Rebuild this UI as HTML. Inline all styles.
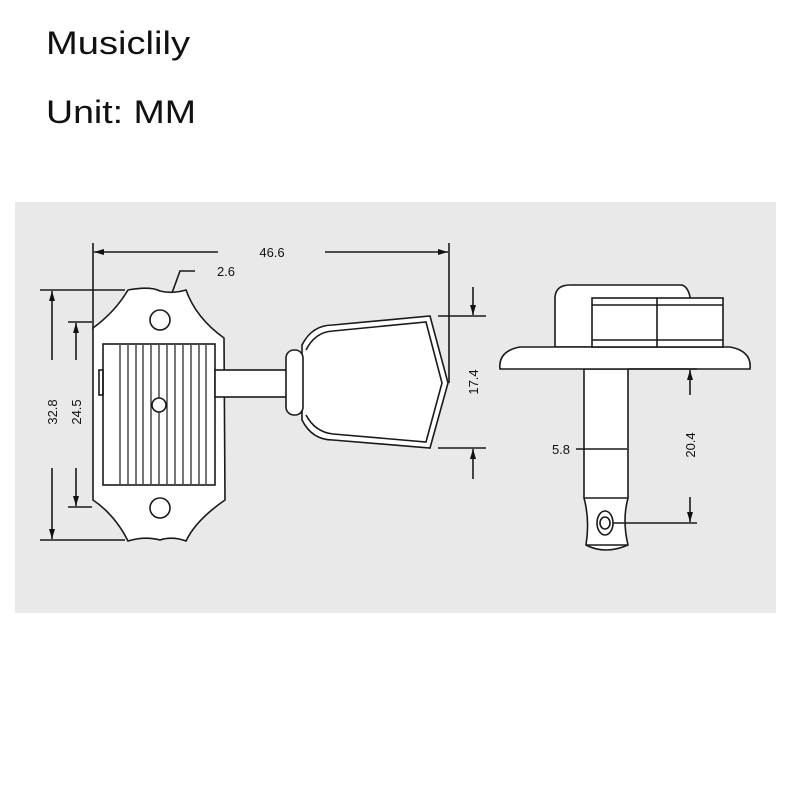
<!DOCTYPE html>
<html><head><meta charset="utf-8"><style>
html,body{margin:0;padding:0;background:#fff;width:800px;height:800px;overflow:hidden}
svg{display:block}
</style></head><body>
<svg width="800" height="800" viewBox="0 0 800 800" xmlns="http://www.w3.org/2000/svg" font-family="Liberation Sans, DejaVu Sans, sans-serif">
<defs>
<marker id="a" markerWidth="10" markerHeight="8" refX="10" refY="4" orient="auto" markerUnits="userSpaceOnUse"><path d="M0,1 L10,4 L0,7 z" fill="#111"/></marker>
</defs>
<text x="46" y="54" font-size="32" fill="#111" textLength="144" lengthAdjust="spacingAndGlyphs">Musiclily</text>
<text x="46" y="123" font-size="32" fill="#111" textLength="150" lengthAdjust="spacingAndGlyphs">Unit: MM</text>
<rect x="15" y="202" width="761" height="411" fill="#e9e9e9"/>
<g fill="none" stroke="#1a1a1a" stroke-width="1.6">
<line x1="93" y1="243" x2="93" y2="330"/>
<line x1="449" y1="243" x2="449" y2="383"/>
<line x1="218" y1="252" x2="94" y2="252" marker-end="url(#a)"/>
<line x1="325" y1="252" x2="448" y2="252" marker-end="url(#a)"/>
<polyline points="195,271 180,271 168,304"/>
<path d="M163,300 L168,306 L172,298 z" fill="#111"/>
<path d="M128,290 Q150,286 160,291 Q172,294 186,290 Q196,318 224,338 L225,500 Q196,520 186,541 Q172,536 160,540 Q145,536 128,541 Q115,515 93,500 L93,328 Q115,312 128,290 Z" fill="#fff"/>
<circle cx="160" cy="320" r="10" fill="#fff"/>
<circle cx="160" cy="508" r="10" fill="#fff"/>
<rect x="103" y="344" width="112" height="141" fill="#fff"/>
<rect x="99" y="370" width="4" height="25"/>
<g stroke-width="1.2">
<line x1="120" y1="345" x2="120" y2="484"/><line x1="128" y1="345" x2="128" y2="484"/>
<line x1="136" y1="345" x2="136" y2="484"/><line x1="143" y1="345" x2="143" y2="484"/>
<line x1="151" y1="345" x2="151" y2="484"/><line x1="159" y1="345" x2="159" y2="484"/>
<line x1="167" y1="345" x2="167" y2="484"/><line x1="175" y1="345" x2="175" y2="484"/>
<line x1="183" y1="345" x2="183" y2="484"/><line x1="191" y1="345" x2="191" y2="484"/>
<line x1="199" y1="345" x2="199" y2="484"/><line x1="206" y1="345" x2="206" y2="484"/>
</g>
<circle cx="159" cy="405" r="7" fill="#fff"/>
<rect x="215" y="370" width="72" height="27" fill="#fff"/>
<path d="M302,345 Q312,325 333,325 L430,316 L448,383 L430,448 L333,440 Q312,440 302,420 Z" fill="#fff"/>
<path d="M306,350 Q315,332 333,331 L426,322 L442,383 L426,442 L333,434 Q315,432 306,415"/>
<rect x="286" y="350" width="17" height="65" rx="8" fill="#fff"/>
<line x1="438" y1="316" x2="486" y2="316"/>
<line x1="438" y1="448" x2="486" y2="448"/>
<line x1="473" y1="287" x2="473" y2="315" marker-end="url(#a)"/>
<line x1="473" y1="479" x2="473" y2="449" marker-end="url(#a)"/>
<line x1="40" y1="290" x2="125" y2="290"/>
<line x1="40" y1="540" x2="125" y2="540"/>
<line x1="52" y1="360" x2="52" y2="291" marker-end="url(#a)"/>
<line x1="52" y1="468" x2="52" y2="539" marker-end="url(#a)"/>
<line x1="68" y1="322" x2="92" y2="322"/>
<line x1="68" y1="507" x2="92" y2="507"/>
<line x1="76" y1="360" x2="76" y2="323" marker-end="url(#a)"/>
<line x1="76" y1="468" x2="76" y2="506" marker-end="url(#a)"/>
<path d="M555,347 L555,297 Q556,285 570,285 L682,285 Q688,287 690,297 L690,347 Z" fill="#fff"/>
<path d="M584,369 L584,498 Q590,520 586,545 Q605,555 628,545 Q622,520 628,498 L628,369 Z" fill="#fff"/>
<line x1="584" y1="498" x2="628" y2="498"/>
<line x1="586" y1="545" x2="628" y2="545"/>
<ellipse cx="605" cy="523" rx="8" ry="12" fill="#fff"/>
<ellipse cx="605" cy="523" rx="5" ry="6"/>
<path d="M500,369 Q498,351 520,347 L730,347 Q752,351 750,369 Z" fill="#fff"/>
<rect x="592" y="298" width="131" height="49" fill="#fff"/>
<line x1="592" y1="305" x2="723" y2="305"/>
<line x1="592" y1="340" x2="723" y2="340"/>
<line x1="657" y1="298" x2="657" y2="347"/>
<line x1="576" y1="449" x2="627" y2="449"/>
<line x1="628" y1="369" x2="697" y2="369"/>
<line x1="613" y1="523" x2="697" y2="523"/>
<line x1="690" y1="395" x2="690" y2="370" marker-end="url(#a)"/>
<line x1="690" y1="497" x2="690" y2="522" marker-end="url(#a)"/>
</g>
<g font-size="13" fill="#111">
<text x="272" y="257" text-anchor="middle">46.6</text>
<text x="226" y="276" text-anchor="middle">2.6</text>
<text x="561" y="454" text-anchor="middle">5.8</text>
<text transform="translate(478,382) rotate(-90)" text-anchor="middle">17.4</text>
<text transform="translate(57,412) rotate(-90)" text-anchor="middle">32.8</text>
<text transform="translate(81,412) rotate(-90)" text-anchor="middle">24.5</text>
<text transform="translate(695,445) rotate(-90)" text-anchor="middle">20.4</text>
</g>
</svg>
</body></html>
